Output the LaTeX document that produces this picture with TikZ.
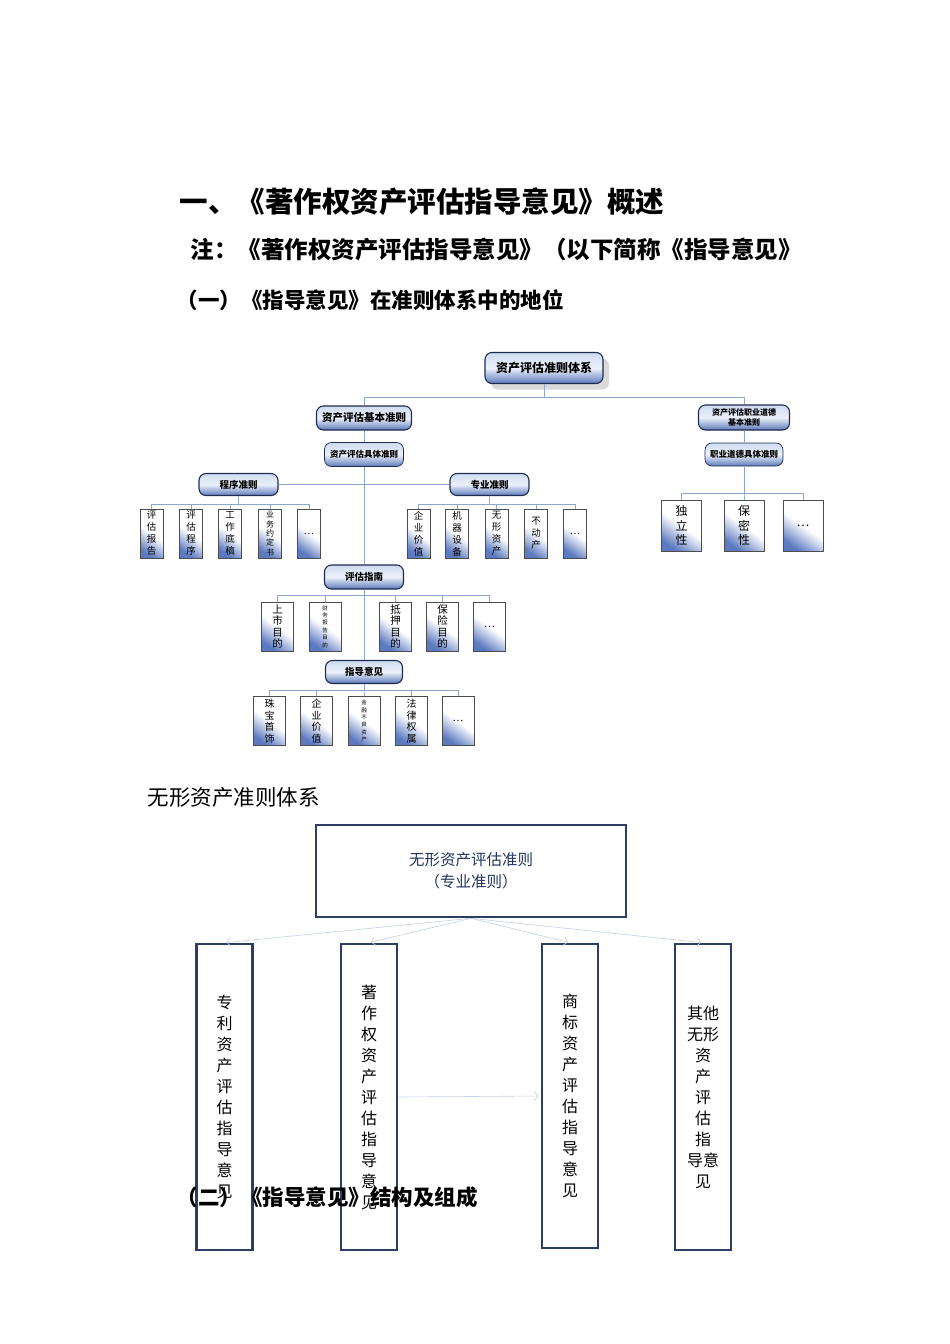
\documentclass[tikz,border=0pt]{standalone}
\usepackage{fontspec}
\setmainfont{Noto Sans CJK SC}
\usetikzlibrary{arrows.meta, positioning, shadows}
\definecolor{linkblue}{RGB}{140,166,206}
\definecolor{navy}{RGB}{30,44,80}
\definecolor{capsky}{RGB}{206,219,240}
\definecolor{caplight}{RGB}{236,241,250}
\definecolor{capblue}{RGB}{92,122,186}
\definecolor{leafblue}{RGB}{92,122,192}
\definecolor{framenavy}{RGB}{44,62,98}
\definecolor{navytext}{RGB}{36,52,92}
\definecolor{faintline}{RGB}{196,208,226}
\newcommand\fsz[2]{\fontsize{#1}{#2}\selectfont}

\begin{document}
\begin{tikzpicture}[x=1pt, y=-1pt,
  headbox/.style={draw=navy, line width=1.1pt, rounded corners=7pt, inner sep=0pt, align=center,
    top color=capsky, bottom color=capblue, middle color=caplight},
  leafbox/.style={draw=black!70, line width=0.6pt, inner sep=0pt, align=center,
    top color=white, bottom color=leafblue, middle color=white, shading angle=-35},
  smallleaf/.style={leafbox, minimum width=23pt, minimum height=49pt, font=\fsz{9.5}{12}},
  wideleaf/.style={leafbox, minimum width=32pt, minimum height=49pt, font=\fsz{10.5}{11.5}},
  ethleaf/.style={leafbox, minimum width=40pt, minimum height=51pt, font=\fsz{12}{14.5}},
  link/.style={draw=linkblue, line width=0.8pt},
  planbox/.style={draw=framenavy, line width=2.6pt, fill=white, inner sep=0pt, align=center},
  fan/.style={draw=faintline, line width=0.6pt, -{Straight Barb[length=4pt, width=9pt]}, shorten >=2pt},
]
  \useasboundingbox (0,0) rectangle (950,1344);

  % headings
  \node[anchor=west, font=\fsz{28.5}{28.5}\bfseries] (title) at (176,202) {一、《著作权资产评估指导意见》概述};
  \node[anchor=west, font=\fsz{23.5}{23.5}\bfseries] (note) at (187,250) {注：《著作权资产评估指导意见》（以下简称《指导意见》};
  \node[anchor=west, font=\fsz{21.5}{22}\bfseries] (part1) at (173,300) {（一）《指导意见》在准则体系中的地位};

  % standards tree: upper levels
  \node[headbox, minimum width=118pt, minimum height=31pt, font=\fsz{12}{12}\bfseries,
    drop shadow={shadow xshift=6pt, shadow yshift=-6pt, opacity=0.3}] (sys) at (544,368) {资产评估准则体系};
  \node[headbox, minimum width=95pt, minimum height=24pt, font=\fsz{10.5}{11}\bfseries] (basic) at (364,418) {资产评估基本准则};
  \node[headbox, minimum width=91pt, minimum height=25pt, font=\fsz{8}{10}\bfseries] (ethic) at (744,417.5) {资产评估职业道德\\基本准则};
  \node[headbox, line width=0.7pt, minimum width=79pt, minimum height=24pt, font=\fsz{8.5}{9}\bfseries] (concrete) at (364,454.5) {资产评估具体准则};
  \node[headbox, line width=0.7pt, minimum width=78pt, minimum height=23pt, font=\fsz{8.5}{9}\bfseries] (ethconc) at (744,454.5) {职业道德具体准则};
  \node[headbox, minimum width=79pt, minimum height=22pt, font=\fsz{9.5}{10}\bfseries] (proc) at (238.5,484.5) {程序准则};
  \node[headbox, minimum width=79pt, minimum height=22pt, font=\fsz{9.5}{10}\bfseries] (prof) at (489.5,484.5) {专业准则};
  \node[headbox, minimum width=79pt, minimum height=24pt, font=\fsz{9.5}{10}\bfseries] (guide) at (364,577) {评估指南};
  \node[headbox, minimum width=77pt, minimum height=23pt, font=\fsz{9.5}{10}\bfseries] (advice) at (364,672) {指导意见};

  % procedure standards
  \node[smallleaf] (p1) at (151.5,533.5) {评\\估\\报\\告};
  \node[smallleaf] (p2) at (191,533.5) {评\\估\\程\\序};
  \node[smallleaf] (p3) at (230,533.5) {工\\作\\底\\稿};
  \node[smallleaf, font=\fsz{8}{9.3}] (p4) at (270,533.5) {业\\务\\约\\定\\书};
  \node[smallleaf] (p5) at (309,533.5) {…};

  % professional standards
  \node[smallleaf] (s1) at (418.5,533.5) {企\\业\\价\\值};
  \node[smallleaf] (s2) at (457,533.5) {机\\器\\设\\备};
  \node[smallleaf] (s3) at (496.5,533.5) {无\\形\\资\\产};
  \node[smallleaf] (s4) at (536,533.5) {不\\动\\产};
  \node[smallleaf] (s5) at (575,533.5) {…};

  % ethics
  \node[ethleaf] (e1) at (681.5,525.5) {独\\立\\性};
  \node[ethleaf] (e2) at (744,525.5) {保\\密\\性};
  \node[ethleaf] (e3) at (803,525.5) {…};

  % guides
  \node[wideleaf] (g1) at (277.5,626.5) {上\\市\\目\\的};
  \node[wideleaf, font=\fsz{5.5}{7.4}] (g2) at (325,626.5) {财\\务\\报\\告\\目\\的};
  \node[wideleaf] (g3) at (395.5,626.5) {抵\\押\\目\\的};
  \node[wideleaf] (g4) at (442.5,626.5) {保\\险\\目\\的};
  \node[wideleaf] (g5) at (489.5,626.5) {…};

  % guidance opinions
  \node[wideleaf, font=\fsz{10}{11.5}] (a1) at (269.5,721) {珠\\宝\\首\\饰};
  \node[wideleaf, font=\fsz{10}{11.5}] (a2) at (316.5,721) {企\\业\\价\\值};
  \node[wideleaf, font=\fsz{5.5}{7.3}] (a3) at (364,721) {金\\融\\不\\良\\资\\产};
  \node[wideleaf, font=\fsz{10}{11.5}] (a4) at (411.5,721) {法\\律\\权\\属};
  \node[wideleaf, font=\fsz{10}{11.5}] (a5) at (458,721) {…};

  % tree connectors
  \draw[link] (sys.south) -- ++(0,13) -| (basic.north);
  \draw[link] (sys.south) -- ++(0,13) -| (ethic.north);
  \draw[link] (basic.south) -- (concrete.north);
  \draw[link] (ethic.south) -- (ethconc.north);
  \draw[link] (concrete.south) -- (guide.north);
  \draw[link] (guide.south) -- (advice.north);
  \draw[link] (proc.east) -- (prof.west);
  \foreach \n in {p1,p2,p3,p4,p5}
    \draw[link] (proc.south) -- ++(0,8) -| (\n.north);
  \foreach \n in {s1,s2,s3,s4,s5}
    \draw[link] (prof.south) -- ++(0,8) -| (\n.north);
  \foreach \n in {e1,e2,e3}
    \draw[link] (ethconc.south) -- ++(0,27) -| (\n.north);
  \foreach \n in {g1,g2,g3,g4,g5}
    \draw[link] (guide.south) -- ++(0,6) -| (\n.north);
  \foreach \n in {a1,a2,a3,a4,a5}
    \draw[link] (advice.south) -- ++(0,6) -| (\n.north);

  % intangible assets
  \node[anchor=west, font=\fsz{21.5}{22}] (intang) at (144,797) {无形资产准则体系};
  \node[planbox, minimum width=310pt, minimum height=92pt, text=navytext, font=\fsz{15.5}{22}] (ia) at (471,871) {无形资产评估准则\\（专业准则）};

  \node[planbox, minimum width=56pt, minimum height=306pt, font=\fsz{16}{21}] (patent) at (224.5,1097) {专\\利\\资\\产\\评\\估\\指\\导\\意\\见};
  \node[planbox, minimum width=56pt, minimum height=306pt, font=\fsz{16}{21}] (copyright) at (369,1097) {著\\作\\权\\资\\产\\评\\估\\指\\导\\意\\见};
  \node[planbox, minimum width=56pt, minimum height=304pt, font=\fsz{16}{21}] (mark) at (570,1096) {商\\标\\资\\产\\评\\估\\指\\导\\意\\见};
  \node[planbox, minimum width=56pt, minimum height=306pt, font=\fsz{16}{21}] (other) at (703,1097) {其他\\无形\\资\\产\\评\\估\\指\\导意\\见};

  \foreach \n in {patent,copyright,mark,other}
    \draw[fan] (ia.south) -- (\n.north);
  \draw[fan] (copyright.east) -- (mark.west);

  \node[anchor=west, font=\fsz{21.5}{22}\bfseries] (part2) at (173,1197) {（二）《指导意见》结构及组成};
\end{tikzpicture}
\end{document}
